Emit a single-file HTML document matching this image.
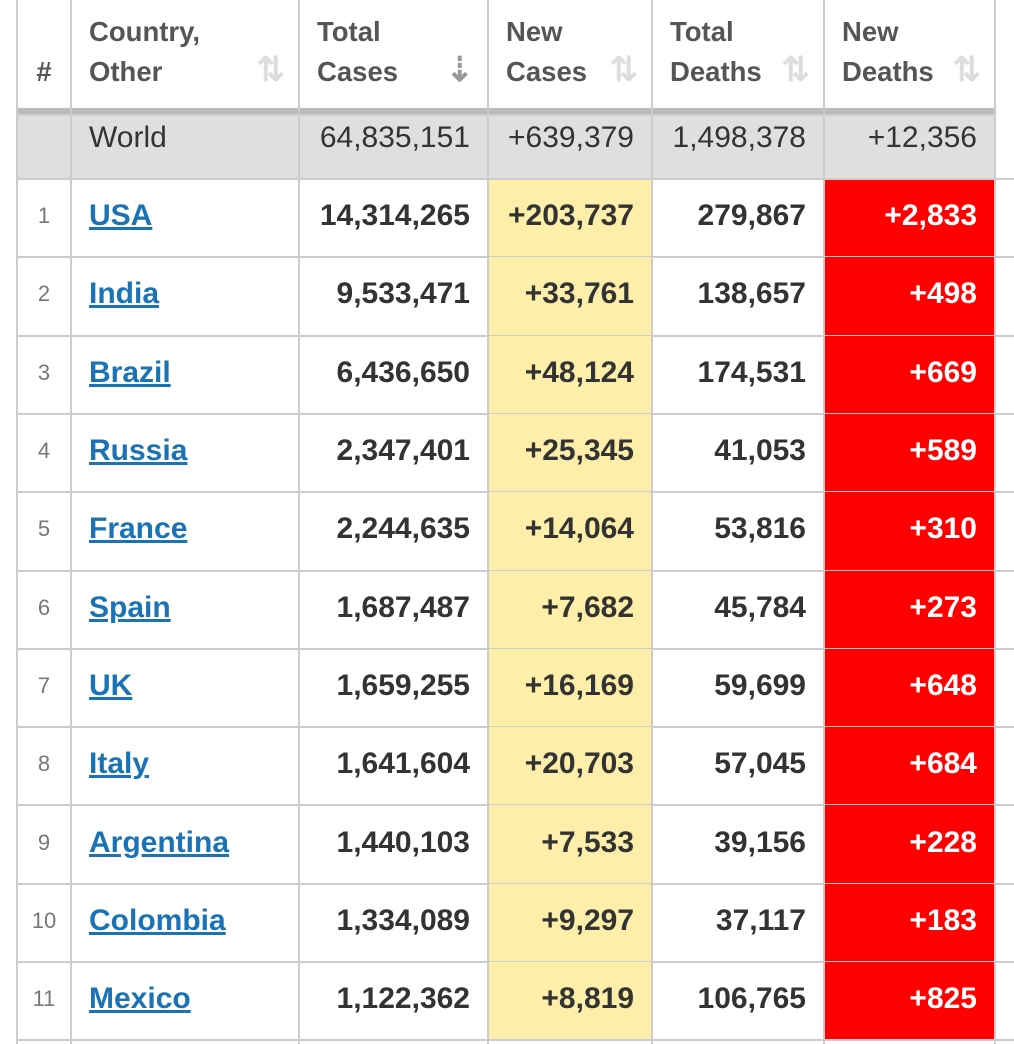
<!DOCTYPE html>
<html><head><meta charset="utf-8"><style>
body{margin:0;width:1014px;height:1044px;overflow:hidden;background:#fff;font-family:"Liberation Sans",Arial,sans-serif;position:relative}
.c{position:absolute;box-sizing:border-box;display:flex;align-items:center;white-space:nowrap}
.v{position:absolute;background:#ccc}
.h{position:absolute;background:#ccc}
.hd{color:#555;font-weight:bold;font-size:27.5px;line-height:40px;align-items:flex-end;padding-bottom:18px}
.sort{position:absolute;color:#ddd;font-size:34px;font-weight:bold;bottom:20px}
a{color:#1a73b4;text-decoration:underline;font-weight:bold}
</style></head><body>
<div id="t"></div>
<script>
const countries=["USA","India","Brazil","Russia","France","Spain","UK","Italy","Argentina","Colombia","Mexico"];
const totalCases=["14,314,265","9,533,471","6,436,650","2,347,401","2,244,635","1,687,487","1,659,255","1,641,604","1,440,103","1,334,089","1,122,362"];
const newCases=["+203,737","+33,761","+48,124","+25,345","+14,064","+7,682","+16,169","+20,703","+7,533","+9,297","+8,819"];
const totalDeaths=["279,867","138,657","174,531","41,053","53,816","45,784","59,699","57,045","39,156","37,117","106,765"];
const newDeaths=["+2,833","+498","+669","+589","+310","+273","+648","+684","+228","+183","+825"];
const world=["World","64,835,151","+639,379","1,498,378","+12,356"];
const headers=[["#"],["Country,","Other"],["Total","Cases"],["New","Cases"],["Total","Deaths"],["New","Deaths"]];
const X=[17,71,299,488,652,824,995,1014];
const T=document.getElementById('t');
function cell(x0,x1,y0,y1,html,cls,align,st){
 const d=document.createElement('div');d.className='c '+(cls||'');
 d.style.left=x0+'px';d.style.top=y0+'px';d.style.width=(x1-x0)+'px';d.style.height=(y1-y0)+'px';
 d.style.justifyContent=align;d.innerHTML=html;if(st)Object.assign(d.style,st);T.appendChild(d);return d;}
const H0=110,W0=179,RH=78.3;
headers.forEach((h,i)=>{
 const d=cell(X[i],X[i+1],0,H0,h.join('<br>'),'hd',i==0?'center':'flex-start',{paddingLeft:i==0?'0':'18px'});
 
 
 if(i>0){const s=document.createElement('span');s.className='sort';s.style.right='14px';s.textContent=i==2?'⇣':'⇅';if(i==2)s.style.color='#999';d.appendChild(s);}
});
const wb=cell(X[0],X[6],H0,W0,'','','center',{background:'#dfdfdf'});


world.forEach((w,i)=>{
 const d=cell(X[i+1],X[i+2],H0,W0,w,'',i==0?'flex-start':'flex-end',{paddingLeft:'18px',paddingRight:'18px',paddingBottom:'14px',fontSize:'30px',color:'#333'});
 
 
});
const sh=document.createElement('div');sh.className='h';sh.style.cssText='left:17px;top:108px;width:978px;height:4px;background:#bbb;box-shadow:0 2px 3px #aaa';T.appendChild(sh);
countries.forEach((c,r)=>{
 const y0=W0+r*RH,y1=y0+RH;
 cell(X[3],X[4],y0,y1,'','','center',{background:'#fdeeaa'});
 cell(X[5],X[6],y0,y1,'','','center',{background:'#ff0000'});
 const vals=[String(r+1),'<a>'+c+'</a>',totalCases[r],newCases[r],totalDeaths[r],newDeaths[r]];
 vals.forEach((v,i)=>{
  const d=cell(X[i],X[i+1],y0,y1,v,'',i==0?'center':(i==1?'flex-start':'flex-end'),{paddingLeft:i==0?'0':'18px',paddingRight:i==0?'0':'18px',paddingBottom:'4px',fontSize:i==0?'22px':'30px',fontWeight:i==0?'normal':'bold',color:i==0?'#777':(i==5?'#fff':'#333')});
  
  
 });
 const l=document.createElement('div');l.className='h';l.style.cssText='left:17px;width:997px;height:2px;top:'+(y1-1)+'px';T.appendChild(l);
});
const l0=document.createElement('div');l0.className='h';l0.style.cssText='left:17px;width:997px;height:2px;top:178px';T.appendChild(l0);
X.slice(0,7).forEach(x=>{const v=document.createElement('div');v.className='v';v.style.cssText='left:'+(x-1)+'px;top:0;width:2px;height:1044px';T.appendChild(v);});
</script>
</body></html>
